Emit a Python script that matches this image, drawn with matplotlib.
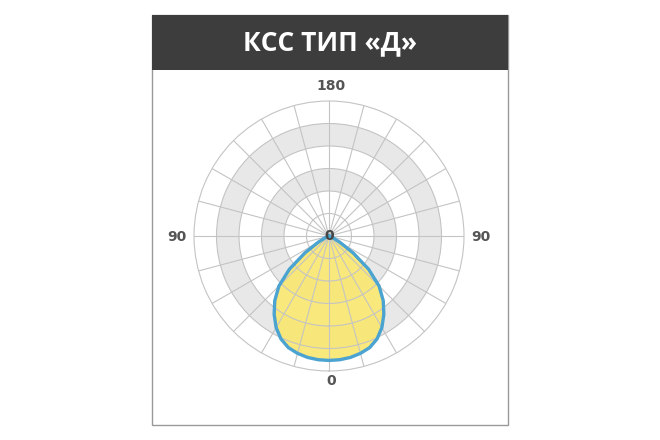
import numpy as np
import matplotlib.pyplot as plt
from matplotlib.patches import Rectangle

# КСС тип «Д»: angle (deg from nadir) -> relative intensity (ring units, outer ring = 6)
angles = [0, 5, 10, 15, 20, 25, 30, 35, 40, 45, 50, 55, 60, 65, 70]
intensity = [5.53, 5.52, 5.48, 5.4, 5.28, 5.05, 4.7, 4.25, 3.75, 3.15, 2.3, 1.3, 0.55, 0.2, 0.0]
title = "КСС ТИП «Д»"

full_ang = [-a for a in angles[::-1]] + angles[1:]
full_r = intensity[::-1] + intensity[1:]
th = np.deg2rad(full_ang)

fig = plt.figure(figsize=(6.6, 4.4), dpi=100)
fig.patches.append(Rectangle((152 / 660, 1 - 425 / 440), 356 / 660, 410 / 440,
                             transform=fig.transFigure, fill=False, ec='#999999', lw=1))
fig.patches.append(Rectangle((152 / 660, 1 - 70 / 440), 356 / 660, 55 / 440,
                             transform=fig.transFigure, fc='#3d3d3d', ec='none'))
fig.text(330 / 660, 1 - 43 / 440, title, color='white', fontsize=19, fontweight='bold',
         ha='center', va='center', family='Open Sans')

ax = fig.add_axes([194 / 660, 69 / 440, 270 / 660, 270 / 440], projection='polar')
ax.set_theta_zero_location('S')
ax.set_ylim(0, 6)
ax.set_facecolor('white')

# gray bands
for r0 in (2, 4):
    ax.bar(0, 1, width=2 * np.pi, bottom=r0, color='#e8e8e8', zorder=0)

ax.set_rticks([1, 2, 3, 4, 5])
ax.set_yticklabels([])
ax.set_xticks(np.deg2rad(np.arange(0, 360, 15)))
ax.set_xticklabels([])
ax.grid(color='#c4c4c4', lw=0.8)
ax.spines['polar'].set_color('#c4c4c4')

ax.fill(th, full_r, color='#f9e670', zorder=2, alpha=0.92)
ax.plot(th, full_r, color='#4aa3d0', lw=2.4, zorder=3)
ax.set_axisbelow(False)
ax.text(0, 0, '0', ha='center', va='center', fontsize=10, fontweight='bold', color='#444444', zorder=5)

lab = dict(fontsize=10, fontweight='bold', color='#555555', ha='center', va='center')
fig.text(331 / 660, 1 - 86 / 440, '180', **lab)
fig.text(331 / 660, 1 - 381 / 440, '0', **lab)
fig.text(177 / 660, 1 - 237 / 440, '90', **lab)
fig.text(481 / 660, 1 - 237 / 440, '90', **lab)

fig.savefig('out.png', dpi=100)
